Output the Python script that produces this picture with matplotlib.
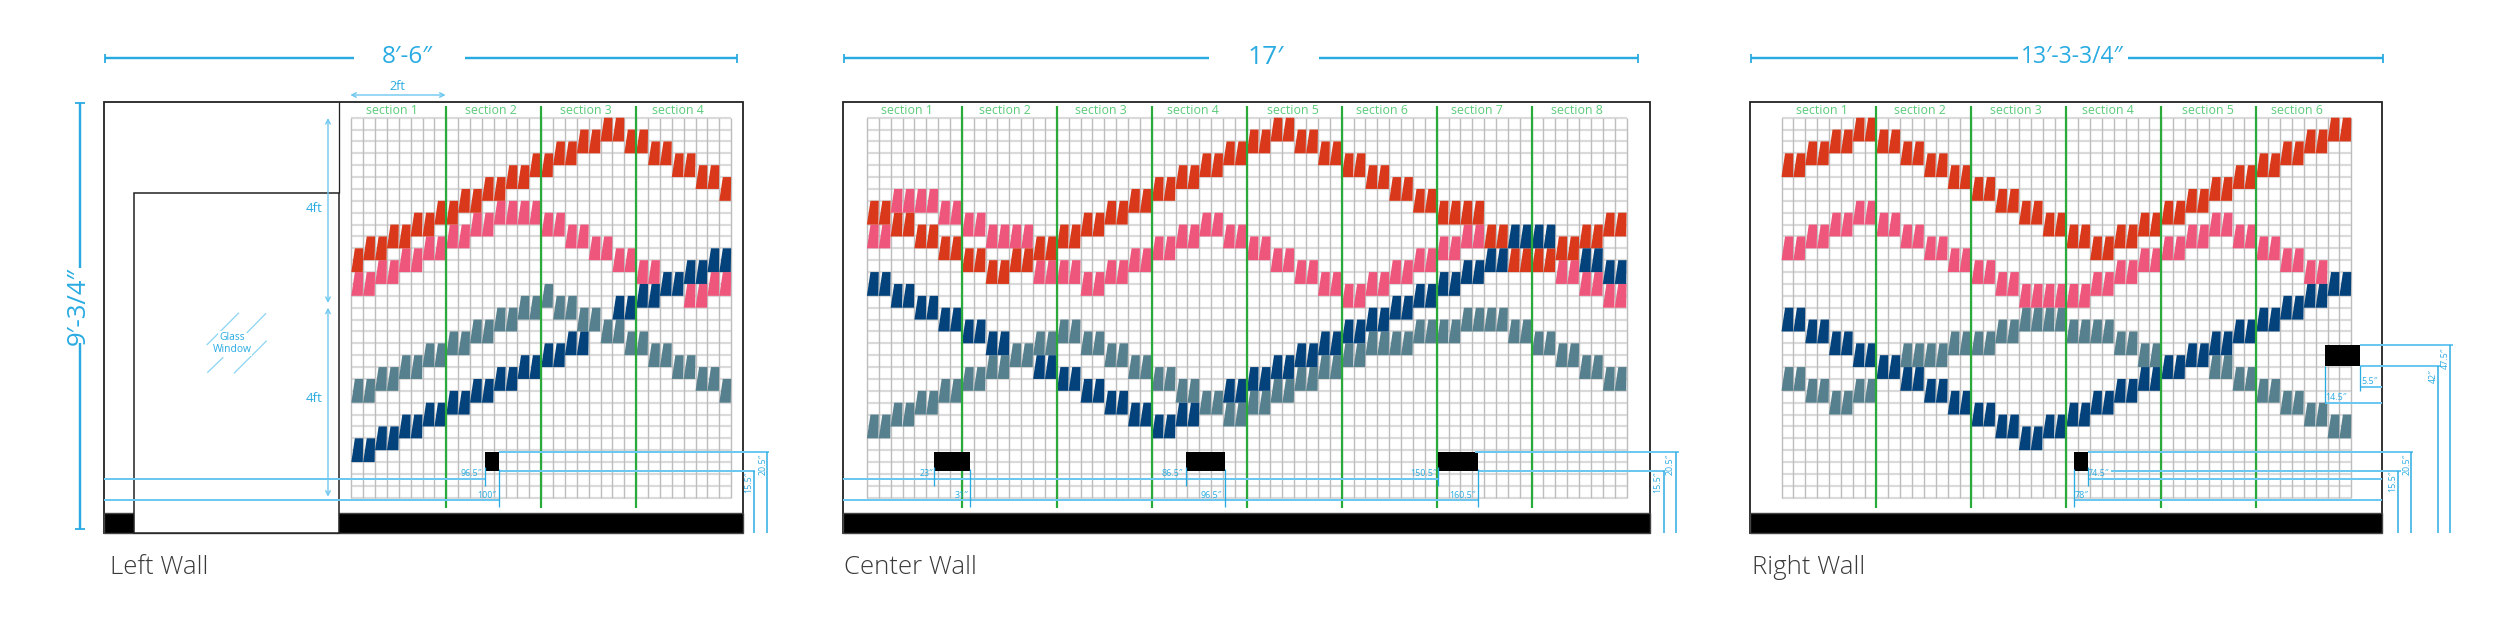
#!/usr/bin/env python3
"""Wall elevations: panel layout for the left, center and right walls."""

import matplotlib

matplotlib.use("Agg")
import matplotlib.pyplot as plt

N = None
CELL = 11.87
ROW = 11.875
GRID_TOP = 117.7
GRID_ROWS = 32

RED = "#d9381a"
PINK = "#ef567b"
TEAL = "#56808d"
NAVY = "#03427a"
GREEN = "#2aaa3a"
SECTION_TEXT = "#5ccb7a"
DIM = "#29abe2"
DIM_PALE = "#6cc8f0"
FONT = "Open Sans"

# row of each panel's top edge, counted from the grid top, one value per column
left_red = [11, 10, 10, 9, 9, 8, 8, 7, 7, 6, 6, 5, 5, 4, 4, 3, 3, 2, 2, 1, 1, 0, 0, 1, 1, 2, 2, 3, 3, 4, 4, 5]
left_pink = [13, 13, 12, 12, 11, 11, 10, 10, 9, 9, 8, 8, 7, 7, 7, 7, 8, 8, 9, 9, 10, 10, 11, 11, 12, 12, N, N, 14, 14, 13, 13]
left_teal = [22, 22, 21, 21, 20, 20, 19, 19, 18, 18, 17, 17, 16, 16, 15, 15, 14, 15, 15, 16, 16, 17, 17, 18, 18, 19, 19, 20, 20, 21, 21, 22]
left_navy = [27, 27, 26, 26, 25, 25, 24, 24, 23, 23, 22, 22, 21, 21, 20, 20, 19, 19, 18, 18, N, N, 15, 15, 14, 14, 13, 13, 12, 12, 11, 11]

# center and right walls: one value per pair of columns
center_red = [7, 8, 9, 10, 11, 12, 11, 10, 9, 8, 7, 6, 5, 4, 3, 2, 1, 0, 1, 2, 3, 4, 5, 6, 7, 7, 9, 11, 11, 10, 9, 8]
center_pink = [9, 6, 6, 7, 8, 9, 9, 12, 12, 13, 12, 11, 10, 9, 8, 9, 10, 11, 12, 13, 14, 13, 12, 11, 10, 9, N, N, N, 12, 13, 14]
center_teal = [25, 24, 23, 22, 21, 20, 19, 18, 17, 18, 19, 20, 21, 22, 23, 24, 23, 22, 21, 20, 19, 18, 18, 17, 17, 16, 16, 17, 18, 19, 20, 21]
center_navy = [13, 14, 15, 16, 17, 18, N, 20, 21, 22, 23, 24, 25, 24, N, 22, 21, 20, 19, 18, 17, 16, 15, 14, 13, 12, 11, 9, 9, N, 11, 12]

right_red = [3, 2, 1, 0, 1, 2, 3, 4, 5, 6, 7, 8, 9, 10, 9, 8, 7, 6, 5, 4, 3, 2, 1, 0]
right_pink = [10, 9, 8, 7, 8, 9, 10, 11, 12, 13, 14, 14, 14, 13, 12, 11, 10, 9, 8, 9, 10, 11, 12, N]
right_teal = [21, 22, 23, 22, N, 19, 19, 18, 18, 17, 16, 16, 17, 17, 18, 19, N, N, 20, 21, 22, 23, 24, 25]
right_navy = [16, 17, 18, 19, 20, 21, 22, 23, 24, 25, 26, 25, 24, 23, 22, 21, 20, 19, 18, 17, 16, 15, 14, 13]

left_sections = ["section 1", "section 2", "section 3", "section 4"]
center_sections = [f"section {i}" for i in range(1, 9)]
right_sections = [f"section {i}" for i in range(1, 7)]

left_label_x = [392, 490.5, 586, 678]
center_label_x = [907, 1005, 1101, 1193, 1293.4, 1382, 1476.6, 1577.4]
right_label_x = [1821.7, 1919.5, 2015.4, 2107.4, 2207.9, 2296.7]


def pairs(values):
    return [v for v in values for _ in (0, 1)]


def line(ax, xs, ys, color=DIM, px=1.5, z=6):
    ax.plot(xs, ys, color=color, lw=px * 0.72, solid_capstyle="butt", zorder=z)


def label(ax, x, y, text, size=7, color=DIM, rotation=0, ha="center", weight="normal", z=8):
    ax.text(x, y, text, fontsize=size, color=color, rotation=rotation, ha=ha, va="center",
            family=FONT, weight=weight, zorder=z)


def draw_panels(ax, grid_x, values, color, z):
    for col, top in enumerate(values):
        if top is None:
            continue
        x = grid_x + col * CELL
        y0 = GRID_TOP + top * ROW
        y1 = y0 + 2 * ROW
        ax.fill([x, x + 0.3 * CELL, x + CELL, x + 0.97 * CELL], [y1, y0, y0, y1],
                color=color, lw=0, zorder=z)


def draw_wall(ax, x0, x1, grid_x, cols, series, names, label_x):
    ax.add_patch(plt.Rectangle((x0, 102.3), x1 - x0, 430.4, fc="white", ec="#222222", lw=1.3, zorder=1))
    ax.add_patch(plt.Rectangle((x0, 512.7), x1 - x0, 20, fc="black", ec="#444444", lw=1.0, zorder=2))
    grid_x1 = grid_x + cols * CELL
    grid_y1 = GRID_TOP + GRID_ROWS * ROW
    for r in range(GRID_ROWS + 1):
        y = GRID_TOP + r * ROW
        line(ax, [grid_x, grid_x1], [y, y], color="#dadada", px=2.2, z=3)
    for c in range(cols + 1):
        x = grid_x + c * CELL
        line(ax, [x, x], [GRID_TOP, grid_y1], color="#bdbdbd", px=1.4, z=3)
    for values, color, z in zip(series, [PINK, RED, TEAL, NAVY], [4, 4.1, 4.2, 4.3]):
        draw_panels(ax, grid_x, values, color, z)
    for s in range(1, len(names)):
        x = grid_x + s * 8 * CELL
        line(ax, [x, x], [106, 508.3], color=GREEN, px=2.2, z=5)
    for x, name in zip(label_x, names):
        label(ax, x, 110.5, name, size=8.9, color=SECTION_TEXT)


fig = plt.figure(figsize=(25, 6.35), dpi=100)
ax = fig.add_axes([0, 0, 1, 1])
ax.set_xlim(0, 2500)
ax.set_ylim(635, 0)
ax.axis("off")

draw_wall(ax, 104, 742.6, 351.3, 32, [left_pink, left_red, left_teal, left_navy], left_sections, left_label_x)
draw_wall(ax, 843, 1650, 866.9, 64, [pairs(center_pink), pairs(center_red), pairs(center_teal), pairs(center_navy)],
          center_sections, center_label_x)
draw_wall(ax, 1750.3, 2382, 1781.5, 48, [pairs(right_pink), pairs(right_red), pairs(right_teal), pairs(right_navy)],
          right_sections, right_label_x)

# glass window cut into the left wall
ax.add_patch(plt.Rectangle((133.7, 192.7), 205.6, 340, fc="white", ec="#222222", lw=1.1, zorder=2.5))
line(ax, [339.3, 339.3], [102.3, 192.7], color="#222222", px=1.3, z=2.6)
for (xa, ya, xb, yb) in [(239, 312.7, 206.7, 345), (266, 313.3, 246.7, 333),
                         (266.7, 340.7, 234, 373.3), (223.3, 357.3, 207.3, 372.7)]:
    line(ax, [xa, xb], [ya, yb], color="#8ed6f4", px=1.3)
for y, word in [(337, "Glass"), (350, "Window")]:
    ax.text(232, y, word, fontsize=7.4, color=DIM, ha="center", va="center", family=FONT, zorder=8,
            bbox=dict(fc="white", ec="none", pad=0.6))

# outlets
for x, y, w, h in [(485.2, 451.7, 13.4, 19.3), (934, 451.7, 36, 19.3), (1185.6, 451.7, 39.4, 19.3),
                   (1438, 451.7, 39.7, 19.3), (2074, 451.7, 13.8, 19.3), (2324.8, 345, 35.2, 21.3)]:
    ax.add_patch(plt.Rectangle((x, y), w, h, fc="black", ec="none", zorder=5.5))

# overall width dimensions
for x0, x1, gap0, gap1, text, tx, size in [(105.4, 737, 354, 464.6, "8′-6″", 406.8, 17.5),
                                           (844, 1638, 1209, 1319, "17′", 1266, 19),
                                           (1751, 2383, 2018, 2128, "13′-3-3/4″", 2072.6, 16.5)]:
    line(ax, [x0, gap0], [58.3, 58.3], px=2.4)
    line(ax, [gap1, x1], [58.3, 58.3], px=2.4)
    line(ax, [x0, x0], [53.5, 63], px=1.8)
    line(ax, [x1, x1], [53.5, 63], px=1.8)
    label(ax, tx, 57, text, size=size)

# wall height
line(ax, [80, 80], [103.3, 268], px=2.4)
line(ax, [80, 80], [343, 528.7], px=2.4)
line(ax, [75, 85], [103.3, 103.3], px=1.8)
line(ax, [75, 85], [528.7, 528.7], px=1.8)
label(ax, 78, 306, "9′-3/4″", size=18.5, rotation=90)

# section width and panel height arrows on the left wall
arrow = dict(arrowstyle="<->", color=DIM_PALE, lw=1.0, mutation_scale=8, shrinkA=0, shrinkB=0)
ax.annotate("", xy=(350.3, 95), xytext=(445.6, 95), arrowprops=arrow, zorder=7)
ax.annotate("", xy=(328, 118), xytext=(328, 303), arrowprops=arrow, zorder=7)
ax.annotate("", xy=(328, 307.7), xytext=(328, 496.7), arrowprops=arrow, zorder=7)
label(ax, 397, 87, "2ft", size=9)
label(ax, 314.5, 208.7, "4ft", size=9.5)
label(ax, 314.5, 398, "4ft", size=9.5)

# offset lines running from the wall edge to the outlets
for x0, x1, y in [(104, 485.2, 479), (104, 498.6, 500), (843, 1438, 479), (843, 1477.7, 500),
                  (2087.8, 2381.5, 479), (2074, 2381.5, 500), (2360, 2381.5, 386.7), (2324.8, 2381.5, 402.7)]:
    line(ax, [x0, x1], [y, y], color=DIM_PALE, px=2.0)
for x0, x1, y in [(498.6, 769, 451.7), (498.6, 754.5, 471), (1475, 1679, 451.7), (1477.7, 1664.7, 471),
                  (2087.8, 2412.8, 451.7), (2110.5, 2400.7, 471), (2360, 2452.7, 344.7), (2360, 2441, 366)]:
    line(ax, [x0, x1], [y, y], color=DIM_PALE, px=2.0)

# outlet edge ticks
for x in [485.2, 934, 1185.6, 1438, 2087.8]:
    line(ax, [x, x], [467, 485.7], px=1.3)
for x in [498.6, 970, 1225, 1477.7, 2074]:
    line(ax, [x, x], [469, 507], px=1.3)
line(ax, [2324.8, 2324.8], [366, 402.7], px=1.3)
line(ax, [2360, 2360], [366, 391], px=1.3)

# height verticals down to the floor
for x, y in [(753.6, 471), (767, 451.7), (1663.6, 471), (1676, 451.7),
             (2398, 471), (2411, 451.7), (2438, 366), (2449.7, 344.7)]:
    line(ax, [x, x], [y, 532.7], px=1.5)

for x, y, text in [(471.3, 473.7, "96.5″"), (486.7, 495, "100″"), (926.5, 473.7, "23″"), (961.7, 495, "31″"),
                   (1172.5, 473.7, "86.5″"), (1211, 495, "96.5″"), (1423.5, 473.7, "150.5″"), (1462.5, 495, "160.5″"),
                   (2098.5, 473.7, "74.5″"), (2082, 495, "78″"), (2369, 381.7, "5.5″"), (2336, 397.3, "14.5″")]:
    label(ax, x, y, text, size=6.4)
for x, y, text in [(749, 482.7, "15.5″"), (763.3, 464, "20.5″"), (1658, 482.7, "15.5″"), (1670.6, 464, "20.5″"),
                   (2393, 481.7, "15.5″"), (2406.7, 464, "20.5″"), (2433, 376, "42″"), (2445, 358, "47.5″")]:
    label(ax, x, y, text, size=6.4, rotation=90)

for x, text in [(110, "Left Wall"), (843.5, "Center Wall"), (1752, "Right Wall")]:
    ax.text(x, 568, text, fontsize=18.5, color="#3a3a3a", ha="left", va="center", family=FONT, weight="light")

fig.savefig("out.png", dpi=100, facecolor="white")
